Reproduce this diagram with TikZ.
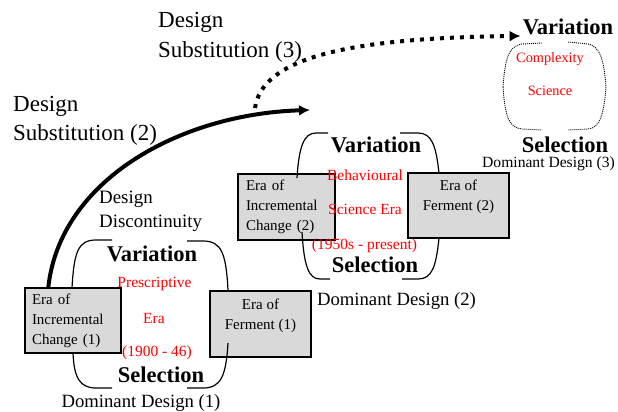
\documentclass[tikz,border=0pt]{standalone}
\usepackage{fontspec}
\setmainfont{Liberation Serif}
\usetikzlibrary{arrows.meta}
\usetikzlibrary{calc}
\usetikzlibrary{positioning}

\begin{document}
\begin{tikzpicture}[x=1pt, y=-1pt, >={Latex[length=11pt,width=11pt]},
	erabox/.style={draw, line width=1.4pt, fill=boxgray, inner ysep=2pt, font=\fontsize{15}{20}\selectfont},
	eraleft/.style={erabox, align=left, inner xsep=7pt, text width=82pt},
	eraright/.style={erabox, align=center, minimum width=101pt, minimum height=65pt},
	stage/.style={font=\fontsize{22.5}{27}\selectfont\bfseries, anchor=base, inner sep=0pt},
	era/.style={text=red, font=\fontsize{15.5}{19}\selectfont, anchor=base, inner sep=0pt},
	dominant/.style={font=\fontsize{18.7}{22}\selectfont, anchor=base, inner sep=0pt},
	shift label/.style={font=\fontsize{23}{29}\selectfont, align=left, anchor=base west, inner sep=0pt},
	bracket/.style={line width=1.2pt},
	thinbracket/.style={line width=0.9pt, dash pattern=on 1pt off 1pt}]
	\definecolor{boxgray}{RGB}{217,217,217}
	\useasboundingbox (0,0) rectangle (618,412);
	%%%%%%%%%%%%%%%%%%%%%%%%%%%%%%%%%%%%%%%%%%%%%%%%%%%%%%%%%%
	% era boxes
	\node[eraleft, minimum height=65pt] (inc1) at (73,320.5) {Era of\\Incremental\\Change (1)};
	\node[eraright, minimum height=66pt] (fer1) at (260.5,324) {Era of\\Ferment (1)\\~};
	\node[eraleft, minimum height=66pt, inner xsep=8pt, text width=81pt] (inc2) at (286.5,207) {Era of\\Incremental\\Change (2)};
	\node[eraright] (fer2) at (458.5,205.5) {Era of\\Ferment (2)\\~};
	%%%%%%%%%%%%%%%%%%%%%%%%%%%%%%%%%%%%%%%%%%%%%%%%%%%%%%%%%%
	% first cycle
	\node[stage] (var1) at (152,261) {Variation};
	\node[era] (pre1) at (154.5,287) {Prescriptive};
	\node[era] (pre2) at (154,323) {Era};
	\node[era] (pre3) at (157,356) {(1900 - 46)};
	\node[stage] (sel1) at (161,382) {Selection};
	\node[dominant] (dom1) at (141,407) {Dominant Design (1)};
	\draw[bracket] (72,288) .. controls (74,252) and (78,240) .. (96,240) -- (112,240);
	\draw[bracket] (187,241) -- (203,241) .. controls (222,241) and (226,254) .. (228,290);
	\draw[bracket] (73,353) .. controls (74,378) and (80,388) .. (96,388) -- (112,388);
	\draw[bracket] (187,388) -- (203,388) .. controls (221,388) and (226,376) .. (228,343);
	%%%%%%%%%%%%%%%%%%%%%%%%%%%%%%%%%%%%%%%%%%%%%%%%%%%%%%%%%%
	% second cycle
	\node[stage] (var2) at (376,152) {Variation};
	\node[era] (beh1) at (365,180) {Behavioural};
	\node[era] (beh2) at (365,214) {Science Era};
	\node[era] (beh3) at (364.5,249) {(1950s - present)};
	\node[stage] (sel2) at (375,272) {Selection};
	\node[dominant] (dom2) at (396.5,305) {Dominant Design (2)};
	\draw[bracket] (297,178) .. controls (299,146) and (304,133) .. (316,133) -- (328,133);
	\draw[bracket] (400,133) -- (418,133) .. controls (432,133) and (436,146) .. (439,173);
	\draw[bracket] (302,232) .. controls (304,267) and (309,279) .. (320,279) -- (330,279);
	\draw[bracket] (402,279) -- (418,279) .. controls (432,279) and (436,267) .. (439,238);
	%%%%%%%%%%%%%%%%%%%%%%%%%%%%%%%%%%%%%%%%%%%%%%%%%%%%%%%%%%
	% third cycle
	\node[stage] (var3) at (568,35) {Variation};
	\node[era, font=\fontsize{14.3}{17}\selectfont] (cpx1) at (550,63) {Complexity};
	\node[era, font=\fontsize{14.3}{17}\selectfont] (cpx2) at (550,95) {Science};
	\node[stage] (sel3) at (565,152) {Selection};
	\node[dominant, font=\fontsize{15.6}{18}\selectfont] (dom3) at (548.5,167) {Dominant Design (3)};
	\draw[thinbracket] (542,43) -- (522,44) .. controls (508,46) and (505,60) .. (503,87);
	\draw[thinbracket] (568,42) -- (588,44) .. controls (600,46) and (604,60) .. (606,87);
	\draw[thinbracket] (503,87) .. controls (505,114) and (508,128) .. (522,129) -- (542,130);
	\draw[thinbracket] (606,87) .. controls (604,114) and (600,128) .. (588,129) -- (568,130);
	%%%%%%%%%%%%%%%%%%%%%%%%%%%%%%%%%%%%%%%%%%%%%%%%%%%%%%%%%%
	% shift labels (base = last line)
	\node[shift label] (sub3) at (158,57) {Design\\Substitution (3)};
	\node[shift label] (sub2) at (13,140) {Design\\Substitution (2)};
	\node[shift label, font=\fontsize{18.9}{24}\selectfont] (disc) at (99,227) {Design\\Discontinuity};
	
	% design substitution (2)
	\coordinate (sub2tip) at (310,110);
	\draw[->, line width=4pt] ($(inc1.north west)+(24,0)$) .. controls (60,180) and (180,114) .. (sub2tip);
	
	% design substitution (3)
	\coordinate (sub3start) at (255,108);
	\draw[->, line width=4pt, dash pattern=on 4pt off 6pt] (sub3start) .. controls (262,60) and (340,38) .. ($(var3.base west)+(-2,1)$);
	
\end{tikzpicture}
\end{document}
